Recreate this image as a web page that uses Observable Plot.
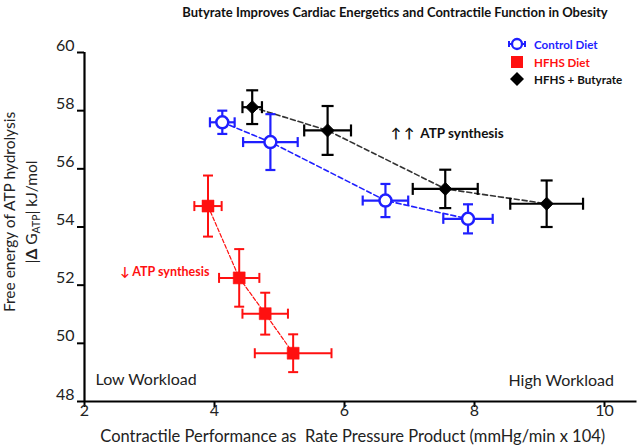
<!DOCTYPE html>
<html>
<head>
<meta charset="utf-8">
<script src="https://cdn.jsdelivr.net/npm/d3@7"></script>
<script src="https://cdn.jsdelivr.net/npm/@observablehq/plot@0.6"></script>
<style>
  html, body { margin: 0; padding: 0; background: #fff; }
  #wrap { position: relative; width: 640px; height: 448px; font-family: Lato, "Open Sans", sans-serif; }
  #title { height: 24px; line-height: 24px; width: 640px; box-sizing: border-box; padding-left: 150px; text-align: center; font-weight: bold; font-size: 13px; color: #111; }
  #legend { position: absolute; left: 506px; top: 35px; font-weight: bold; font-size: 11.6px; }
  #legend .item { position: absolute; left: 0; height: 18px; display: flex; align-items: center; white-space: nowrap; }
  #legend svg { width: 22px; height: 18px; margin-right: 6px; }
  svg { display: block; }
</style>
</head>
<body>
<div id="wrap">
  <div id="title"></div>
  <div id="chart"></div>
  <div id="legend"></div>
</div>
<script>
// ---- data ----
const titleText = "Butyrate Improves Cardiac Energetics and Contractile Function in Obesity";
const xLabel = "Contractile Performance as\u00a0 Rate Pressure Product (mmHg/min x 104)";
const yLabelLine1 = "Free energy of ATP hydrolysis";
const xTicks = [2, 4, 6, 8, 10];
const yTicks = [48, 50, 52, 54, 56, 58, 60];
const seriesNames = ["Control Diet", "HFHS Diet", "HFHS + Butyrate"];

const controlX    = [4.12, 4.86, 6.63, 7.90];
const controlY    = [57.60, 56.92, 54.91, 54.28];
const controlXErr = [0.19, 0.42, 0.35, 0.38];
const controlYErr = [0.40, 0.96, 0.57, 0.50];

const hfhsX    = [3.90, 4.38, 4.78, 5.21];
const hfhsY    = [54.72, 52.25, 51.02, 49.66];
const hfhsXErr = [0.21, 0.31, 0.35, 0.59];
const hfhsYErr = [1.05, 0.99, 0.72, 0.65];

const butX    = [4.58, 5.74, 7.55, 9.11];
const butY    = [58.12, 57.32, 55.31, 54.80];
const butXErr = [0.15, 0.36, 0.50, 0.56];
const butYErr = [0.58, 0.84, 0.66, 0.80];

const annUp = "\u2191\u00a0\u2191\u00a0\u00a0ATP synthesis";
const annDown = "\u2193 ATP synthesis";
const lowLabel = "Low Workload";
const highLabel = "High Workload";

// ---- build table ----
const colors = {"Control Diet": "#1f1fff", "HFHS Diet": "#ff1010", "HFHS + Butyrate": "#000000"};
function rows(name, xs, ys, exs, eys) {
  return xs.map((x, i) => ({series: name, x, y: ys[i], ex: exs[i], ey: eys[i]}));
}
const control = rows(seriesNames[0], controlX, controlY, controlXErr, controlYErr);
const hfhs = rows(seriesNames[1], hfhsX, hfhsY, hfhsXErr, hfhsYErr);
const but = rows(seriesNames[2], butX, butY, butXErr, butYErr);

// custom symbols
const hcap = {draw(ctx, size) { const r = Math.sqrt(size / Math.PI); ctx.moveTo(-r, 0); ctx.lineTo(r, 0); }};
const vcap = {draw(ctx, size) { const r = Math.sqrt(size / Math.PI); ctx.moveTo(0, -r); ctx.lineTo(0, r); }};
const diamond = {draw(ctx, size) { const r = Math.sqrt(size / Math.PI); ctx.moveTo(0, -r); ctx.lineTo(r, 0); ctx.lineTo(0, r); ctx.lineTo(-r, 0); ctx.closePath(); }};
const square = {draw(ctx, size) { const r = Math.sqrt(size / Math.PI); ctx.rect(-r, -r, 2 * r, 2 * r); }};

function errorMarks(data, color, capR, sw) {
  return [
    Plot.ruleX(data, {x: "x", y1: d => d.y - d.ey, y2: d => d.y + d.ey, stroke: color, strokeWidth: sw}),
    Plot.ruleY(data, {y: "y", x1: d => d.x - d.ex, x2: d => d.x + d.ex, stroke: color, strokeWidth: sw}),
    Plot.dot(data, {x: "x", y: d => d.y - d.ey, symbol: hcap, r: capR, stroke: color, strokeWidth: sw}),
    Plot.dot(data, {x: "x", y: d => d.y + d.ey, symbol: hcap, r: capR, stroke: color, strokeWidth: sw}),
    Plot.dot(data, {x: d => d.x - d.ex, y: "y", symbol: vcap, r: capR, stroke: color, strokeWidth: sw}),
    Plot.dot(data, {x: d => d.x + d.ex, y: "y", symbol: vcap, r: capR, stroke: color, strokeWidth: sw})
  ];
}

document.getElementById("title").textContent = titleText;

const FS = 16;
const plot = Plot.plot({
  width: 640,
  height: 424,
  marginLeft: 84,
  marginRight: 3.5,
  marginTop: 28,
  marginBottom: 47,
  style: {fontFamily: "Lato, 'Open Sans', sans-serif", background: "#fff", overflow: "visible"},
  x: {domain: [2, 10.5]},
  y: {domain: [48, 60]},
  marks: [
    // axes
    Plot.axisY({ticks: yTicks, tickSize: 7, tickFormat: () => "", strokeWidth: 2, stroke: "#000", label: null}),
    Plot.axisY({ticks: yTicks, tickSize: 0, tickPadding: 10, dy: -7, fontSize: FS, fill: "#222", label: null}),
    Plot.axisX({ticks: xTicks, tickSize: 6, tickFormat: () => "", strokeWidth: 2, stroke: "#000", label: null}),
    Plot.axisX({ticks: xTicks, tickSize: 0, tickPadding: 3, fontSize: FS, fill: "#222", label: null}),
    Plot.ruleX([2], {stroke: "#000", strokeWidth: 2.2}),
    Plot.ruleY([48], {stroke: "#000", strokeWidth: 2.2}),
    // connecting dashed lines
    Plot.line(but, {x: "x", y: "y", stroke: "#333", strokeWidth: 1.6, strokeDasharray: "5,3"}),
    Plot.line(control, {x: "x", y: "y", stroke: colors["Control Diet"], strokeWidth: 1.6, strokeDasharray: "5,3"}),
    Plot.line(hfhs, {x: "x", y: "y", stroke: colors["HFHS Diet"], strokeWidth: 1.2, strokeDasharray: "4,2"}),
    // error bars
    ...errorMarks(but, "#000", 6, 2.2),
    ...errorMarks(control, colors["Control Diet"], 5, 2.2),
    ...errorMarks(hfhs, colors["HFHS Diet"], 5, 2),
    // markers
    Plot.dot(but, {x: "x", y: "y", symbol: diamond, r: 6.5, fill: "#000", stroke: "#000", strokeWidth: 1}),
    Plot.dot(control, {x: "x", y: "y", symbol: "circle", r: 6, fill: "#fff", stroke: colors["Control Diet"], strokeWidth: 2.5}),
    Plot.dot(hfhs, {x: "x", y: "y", symbol: square, r: 6, fill: colors["HFHS Diet"], stroke: colors["HFHS Diet"], strokeWidth: 0.5}),
    // annotations
    Plot.text([annUp], {x: 6.71, y: 57.22, text: d => d, textAnchor: "start", fontWeight: "bold", fontSize: 13.5, fill: "#111"}),
    Plot.text([annDown], {x: 2.55, y: 52.44, text: d => d, textAnchor: "start", fontWeight: "bold", fontSize: 12.5, fill: colors["HFHS Diet"]}),
    Plot.text([lowLabel], {frameAnchor: "bottom-left", dx: 11, dy: -22, lineAnchor: "middle", text: d => d, fontSize: FS, fill: "#222"}),
    Plot.text([highLabel], {frameAnchor: "bottom-right", dx: -23, dy: -21, lineAnchor: "middle", text: d => d, fontSize: FS, fill: "#222"}),
    Plot.text([xLabel], {frameAnchor: "bottom", dx: -8, dy: 35, lineAnchor: "middle", text: d => d, fontSize: 16.5, fill: "#222"})
  ]
});
document.getElementById("chart").appendChild(plot);

// y-axis label with subscript
const svg = d3.select(plot);
const yl = svg.append("g").attr("font-family", "Lato, 'Open Sans', sans-serif").attr("font-size", 15.5).attr("fill", "#222");
yl.append("text").attr("transform", "translate(15,188) rotate(-90)").attr("text-anchor", "middle").text(yLabelLine1);
const t2 = yl.append("text").attr("transform", "translate(37,188) rotate(-90)").attr("text-anchor", "middle");
t2.append("tspan").text("|");
t2.append("tspan").attr("font-weight", "bold").text("\u0394");
t2.append("tspan").text(" G");
t2.append("tspan").attr("font-size", 10.5).attr("dy", 3).text("ATP");
t2.append("tspan").attr("dy", -3).text("| kJ/mol");

// legend
const legend = d3.select("#legend");
const rowsTop = [0, 18, 35];
seriesNames.forEach((name, i) => {
  const item = legend.append("div").attr("class", "item").style("top", rowsTop[i] + "px").style("color", colors[name] === "#000000" ? "#111" : colors[name]);
  const s = item.append("svg").attr("viewBox", "0 0 22 18");
  if (i === 0) {
    s.append("line").attr("x1", 3).attr("x2", 19).attr("y1", 9).attr("y2", 9).attr("stroke", colors[name]).attr("stroke-width", 2);
    s.append("line").attr("x1", 3).attr("x2", 3).attr("y1", 6).attr("y2", 12).attr("stroke", colors[name]).attr("stroke-width", 2);
    s.append("line").attr("x1", 19).attr("x2", 19).attr("y1", 6).attr("y2", 12).attr("stroke", colors[name]).attr("stroke-width", 2);
    s.append("circle").attr("cx", 11).attr("cy", 9).attr("r", 5).attr("fill", "#fff").attr("stroke", colors[name]).attr("stroke-width", 2.3);
  } else if (i === 1) {
    s.append("rect").attr("x", 5).attr("y", 3).attr("width", 12).attr("height", 12).attr("fill", colors[name]);
  } else {
    s.append("path").attr("d", "M11,2L18,9L11,16L4,9Z").attr("fill", "#000");
  }
  item.append("span").text(name);
});
</script>
</body>
</html>
